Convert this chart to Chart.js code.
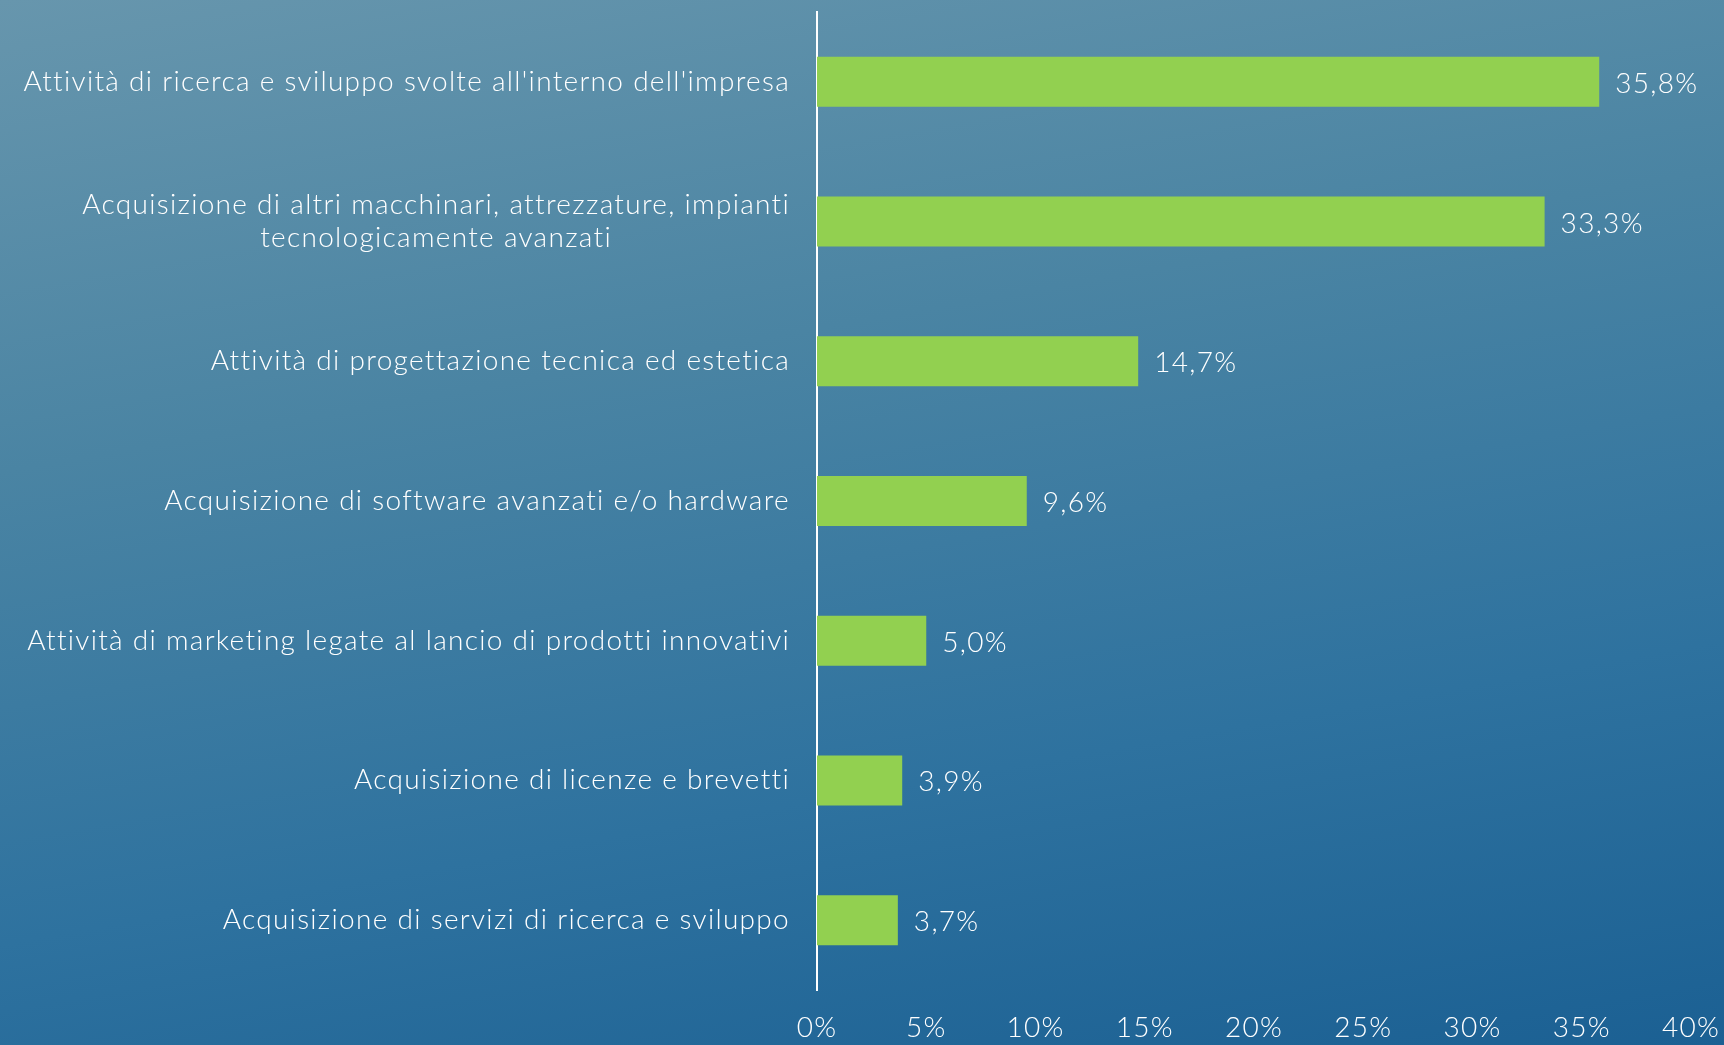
<!DOCTYPE html>
<html>
<head>
  <title>Attività innovative</title>
  <script src="https://cdn.jsdelivr.net/npm/chart.js"></script>
  <style>
    html, body { margin: 0; padding: 0; }
    body {
      width: 1724px; height: 1045px; overflow: hidden;
      background: linear-gradient(170deg, #6796ad 0%, #4a84a3 35%, #2e729f 70%, #1b6093 100%);
    }
    #wrap { width: 1724px; height: 1045px; }
  </style>
</head>
<body>
  <div id="wrap"><canvas id="myChart"></canvas></div>

  <script>
    const categories = [
      "Attività di ricerca e sviluppo svolte all'interno dell'impresa",
      ["Acquisizione di altri macchinari, attrezzature, impianti", "tecnologicamente avanzati"],
      "Attività di progettazione tecnica ed estetica",
      "Acquisizione di software avanzati e/o hardware",
      "Attività di marketing legate al lancio di prodotti innovativi",
      "Acquisizione di licenze e brevetti",
      "Acquisizione di servizi di ricerca e sviluppo"
    ];
    const values = [35.8, 33.3, 14.7, 9.6, 5.0, 3.9, 3.7];
    const xTicks = [0, 5, 10, 15, 20, 25, 30, 35, 40];

    const FONT = 'Lato, "Open Sans", sans-serif';
    const FONT_SIZE = 28;
    const SPACING = '1.3px';
    const fmt = v => v.toFixed(1).replace('.', ',') + '%';

    // spaziatura un po' più larga, più vicina al carattere originale
    const spacing = {
      id: 'spacing',
      beforeDraw(chart) { chart.ctx.letterSpacing = SPACING; }
    };

    // etichette delle categorie: blocco allineato a destra, righe centrate nel blocco
    const categoryLabels = {
      id: 'categoryLabels',
      afterDraw(chart) {
        const ctx = chart.ctx;
        const y = chart.scales.y;
        const right = chart.chartArea.left - 27;
        ctx.save();
        ctx.letterSpacing = SPACING;
        ctx.font = '300 ' + FONT_SIZE + 'px ' + FONT;
        ctx.fillStyle = '#ffffff';
        ctx.textBaseline = 'middle';
        ctx.textAlign = 'center';
        categories.forEach((lab, i) => {
          const lines = Array.isArray(lab) ? lab : [lab];
          const w = Math.max(...lines.map(l => ctx.measureText(l).width));
          const cx = right - w / 2;
          const cy = y.getPixelForValue(i);
          const lh = 33;
          lines.forEach((l, j) => {
            ctx.fillText(l, cx, cy + (j - (lines.length - 1) / 2) * lh);
          });
        });
        ctx.restore();
      }
    };

    const valueLabels = {
      id: 'valueLabels',
      afterDatasetsDraw(chart) {
        const ctx = chart.ctx;
        const meta = chart.getDatasetMeta(0);
        ctx.save();
        ctx.letterSpacing = SPACING;
        ctx.font = '300 ' + FONT_SIZE + 'px ' + FONT;
        ctx.fillStyle = '#ffffff';
        ctx.textBaseline = 'middle';
        ctx.textAlign = 'left';
        meta.data.forEach((bar, i) => {
          ctx.fillText(fmt(values[i]), bar.x + 16, bar.y + 2);
        });
        ctx.restore();
      }
    };

    const ctx = document.getElementById('myChart').getContext('2d');
    const myChart = new Chart(ctx, {
      type: 'bar',
      data: {
        labels: categories,
        datasets: [{
          data: values,
          backgroundColor: '#92d050',
          borderWidth: 0,
          barPercentage: 0.358,
          categoryPercentage: 1
        }]
      },
      options: {
        indexAxis: 'y',
        responsive: true,
        maintainAspectRatio: false,
        animation: false,
        layout: { padding: { top: 12, right: 33, left: 0, bottom: 0 } },
        plugins: { legend: { display: false }, tooltip: { enabled: false } },
        scales: {
          x: {
            min: 0, max: 40,
            afterBuildTicks: s => { s.ticks = xTicks.map(v => ({ value: v })); },
            afterFit: s => { s.height = 55; s.paddingRight = 0; s.paddingLeft = 0; },
            grid: { display: false, drawTicks: false },
            border: { display: false },
            ticks: {
              color: '#ffffff',
              font: { family: FONT, size: FONT_SIZE, weight: '300' },
              padding: 21,
              maxRotation: 0,
              callback: v => v + '%'
            }
          },
          y: {
            afterFit: s => { s.width = 817; },
            grid: { display: false, drawTicks: false },
            border: { display: true, color: '#ffffff', width: 2 },
            ticks: { display: false }
          }
        }
      },
      plugins: [spacing, categoryLabels, valueLabels]
    });
  </script>
</body>
</html>
